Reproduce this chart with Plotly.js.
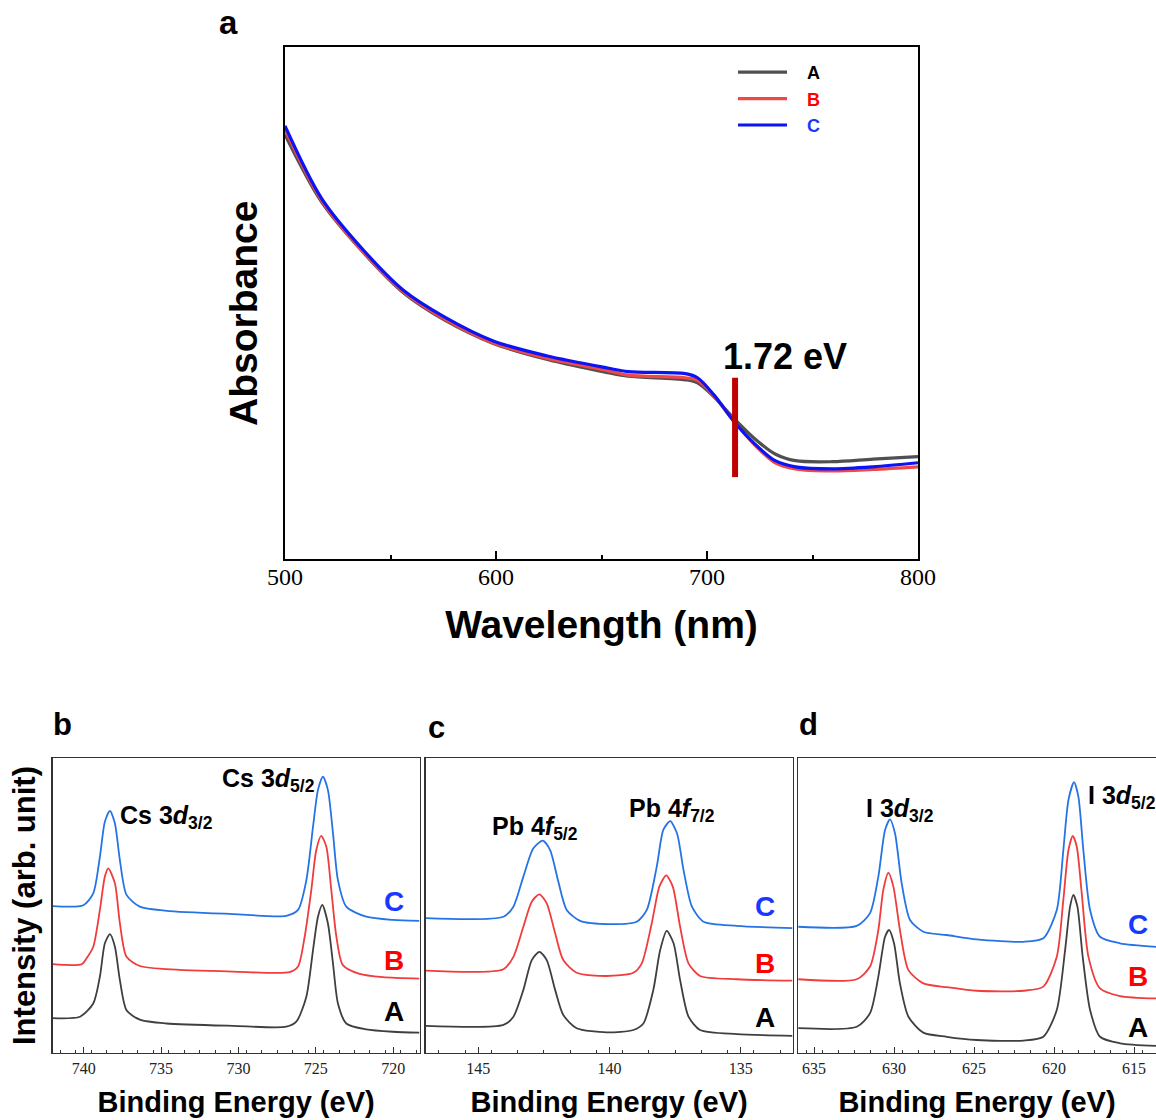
<!DOCTYPE html>
<html>
<head>
<meta charset="utf-8">
<script src="https://cdn.plot.ly/plotly-3.0.1.min.js"></script>
<style>html,body{margin:0;padding:0;background:#fff;}#chart{width:1156px;height:1120px;}</style>
</head>
<body>
<div id="chart"></div>
<script>
// ---------- Panel a: UV-vis absorbance ----------
const wavelength = [500, 517.4, 536.8, 556.1, 575.5, 598.7, 623.9, 652.9, 662.6, 689.7, 695.5, 703.2, 712.9, 722.6, 732.3, 741.9, 759.4, 778.7, 800];
const absA = [0.829, 0.697, 0.600, 0.520, 0.467, 0.421, 0.390, 0.364, 0.357, 0.350, 0.344, 0.317, 0.274, 0.235, 0.205, 0.192, 0.190, 0.195, 0.200];
const absB = [0.839, 0.700, 0.601, 0.522, 0.469, 0.422, 0.392, 0.368, 0.359, 0.354, 0.349, 0.319, 0.268, 0.223, 0.188, 0.176, 0.172, 0.175, 0.180];
const absC = [0.846, 0.704, 0.605, 0.525, 0.473, 0.426, 0.397, 0.373, 0.366, 0.362, 0.354, 0.321, 0.268, 0.225, 0.192, 0.180, 0.176, 0.180, 0.188];
const gapMarkX = [713.3, 713.3];
const gapMarkY = [0.160, 0.354];
const gapLabel = '1.72 eV';
const wlTicks = [500, 600, 700, 800];

// ---------- Panel b: Cs 3d ----------
const csA_x = [742.0, 740.24, 739.38, 738.95, 738.63, 738.30, 737.98, 737.66, 737.23, 736.37, 734.65, 730.35, 726.91, 726.26, 725.61, 725.18, 724.86, 724.58, 724.22, 723.89, 723.57, 723.03, 721.74, 720.02, 718.3];
const csA_y = [0.118, 0.123, 0.168, 0.259, 0.372, 0.403, 0.360, 0.247, 0.145, 0.113, 0.100, 0.092, 0.089, 0.106, 0.191, 0.349, 0.462, 0.502, 0.440, 0.304, 0.168, 0.100, 0.080, 0.072, 0.069];
const csB_x = [742.0, 740.13, 739.81, 739.38, 738.95, 738.63, 738.41, 737.98, 737.66, 737.23, 736.37, 734.65, 730.35, 726.69, 726.15, 725.72, 725.29, 724.97, 724.65, 724.32, 724.0, 723.67, 723.25, 722.17, 720.67, 718.3];
const csB_y = [0.301, 0.301, 0.321, 0.360, 0.485, 0.598, 0.626, 0.575, 0.440, 0.326, 0.295, 0.284, 0.276, 0.274, 0.293, 0.394, 0.553, 0.688, 0.736, 0.699, 0.553, 0.394, 0.298, 0.268, 0.257, 0.252];
const csC_x = [742.0, 740.02, 739.38, 738.95, 738.63, 738.30, 737.98, 737.66, 737.23, 736.37, 734.65, 730.35, 726.91, 726.15, 725.61, 725.18, 724.86, 724.54, 724.22, 723.89, 723.57, 723.03, 721.74, 720.02, 718.3];
const csC_y = [0.498, 0.501, 0.541, 0.665, 0.784, 0.821, 0.778, 0.654, 0.536, 0.496, 0.482, 0.471, 0.465, 0.485, 0.586, 0.767, 0.892, 0.937, 0.892, 0.745, 0.586, 0.496, 0.462, 0.451, 0.448];
const csTicks = [740, 735, 730, 725, 720];

// ---------- Panel c: Pb 4f ----------
const pbA_x = [147.0, 144.04, 143.66, 143.28, 142.96, 142.67, 142.39, 142.07, 141.76, 141.25, 140.10, 139.09, 138.71, 138.33, 138.07, 137.82, 137.56, 137.31, 136.99, 136.55, 135.15, 133.03];
const pbA_y = [0.092, 0.095, 0.123, 0.214, 0.315, 0.343, 0.315, 0.214, 0.129, 0.084, 0.070, 0.078, 0.100, 0.214, 0.349, 0.414, 0.372, 0.247, 0.123, 0.078, 0.064, 0.058];
const pbB_x = [147.0, 144.04, 143.66, 143.28, 142.96, 142.67, 142.39, 142.07, 141.76, 141.25, 140.10, 139.09, 138.77, 138.39, 138.10, 137.84, 137.59, 137.31, 136.99, 136.55, 135.15, 133.03];
const pbB_y = [0.279, 0.284, 0.326, 0.428, 0.513, 0.538, 0.507, 0.406, 0.315, 0.272, 0.261, 0.272, 0.304, 0.440, 0.564, 0.602, 0.564, 0.428, 0.304, 0.261, 0.250, 0.245];
const pbC_x = [147.0, 144.04, 143.66, 143.28, 142.90, 142.54, 142.26, 141.95, 141.63, 141.12, 139.98, 138.96, 138.58, 138.20, 137.95, 137.69, 137.43, 137.18, 136.86, 136.42, 135.15, 133.03];
const pbC_y = [0.457, 0.462, 0.496, 0.598, 0.694, 0.720, 0.688, 0.581, 0.485, 0.448, 0.437, 0.445, 0.485, 0.632, 0.756, 0.786, 0.745, 0.620, 0.496, 0.445, 0.431, 0.423];
const pbTicks = [145, 140, 135];

// ---------- Panel d: I 3d ----------
const iA_x = [635.98, 632.33, 631.5, 630.98, 630.56, 630.31, 630.0, 629.63, 629.1, 628.17, 626.71, 624.83, 621.92, 620.67, 619.83, 619.31, 619.0, 618.79, 618.54, 618.21, 617.75, 617.13, 615.88, 613.63];
const iA_y = [0.084, 0.089, 0.135, 0.259, 0.394, 0.417, 0.372, 0.236, 0.123, 0.069, 0.055, 0.044, 0.042, 0.055, 0.146, 0.349, 0.496, 0.536, 0.496, 0.326, 0.146, 0.055, 0.033, 0.024];
const iB_x = [635.98, 632.33, 631.5, 630.98, 630.67, 630.35, 630.04, 629.63, 629.1, 628.17, 626.71, 624.83, 621.92, 620.67, 619.83, 619.42, 619.1, 618.83, 618.58, 618.27, 617.85, 617.13, 615.88, 613.63];
const iB_y = [0.250, 0.250, 0.293, 0.417, 0.553, 0.611, 0.564, 0.417, 0.281, 0.236, 0.223, 0.211, 0.211, 0.225, 0.326, 0.519, 0.688, 0.736, 0.699, 0.541, 0.326, 0.219, 0.193, 0.185];
const iC_x = [635.98, 632.33, 631.5, 630.98, 630.56, 630.25, 629.94, 629.52, 629.0, 628.17, 626.71, 624.83, 621.92, 620.67, 619.83, 619.42, 619.1, 618.75, 618.48, 618.17, 617.75, 617.13, 615.88, 613.63];
const iC_y = [0.428, 0.431, 0.474, 0.598, 0.756, 0.792, 0.745, 0.575, 0.451, 0.411, 0.400, 0.385, 0.377, 0.389, 0.485, 0.688, 0.858, 0.918, 0.869, 0.688, 0.485, 0.394, 0.372, 0.360];
const iTicks = [635, 630, 625, 620, 615];

const sampleNames = ['A', 'B', 'C'];

// ---------- styling ----------
const SANS = 'Liberation Sans, Arial, sans-serif';
const SERIF = 'Liberation Serif, Times New Roman, serif';
const uvColors = ['#505050', '#f04848', '#0a14f5'];
const xpsColors = ['#3f3f3f', '#f03c3c', '#2574e6'];
const labelColors = ['#000000', '#ff0000', '#1638ff'];

const traces = [];
const uvY = [absA, absB, absC];
for (let i = 0; i < 3; i++) {
  traces.push({
    x: wavelength, y: uvY[i], type: 'scatter', mode: 'lines',
    line: {color: uvColors[i], width: 3.2, shape: 'spline', smoothing: 0.9},
    name: '\u00A0\u00A0\u00A0<b><span style="color:' + labelColors[i] + '">' + sampleNames[i] + '</span></b>',
    legendgroup: 'g' + i,
    xaxis: 'x', yaxis: 'y', hoverinfo: 'skip'
  });
}
traces.push({
  x: gapMarkX, y: gapMarkY, type: 'scatter', mode: 'lines',
  line: {color: '#c00000', width: 6}, showlegend: false, xaxis: 'x', yaxis: 'y', hoverinfo: 'skip'
});

const xpsSets = [
  {ax: '2', xs: [csA_x, csB_x, csC_x], ys: [csA_y, csB_y, csC_y]},
  {ax: '3', xs: [pbA_x, pbB_x, pbC_x], ys: [pbA_y, pbB_y, pbC_y]},
  {ax: '4', xs: [iA_x, iB_x, iC_x], ys: [iA_y, iB_y, iC_y]}
];
xpsSets.forEach(s => {
  for (let i = 0; i < 3; i++) {
    traces.push({
      x: s.xs[i], y: s.ys[i], type: 'scatter', mode: 'lines',
      line: {color: xpsColors[i], width: 1.8, shape: 'spline', smoothing: 0.7},
      showlegend: false, xaxis: 'x' + s.ax, yaxis: 'y' + s.ax, hoverinfo: 'skip'
    });
  }
});

const W = 1156, H = 1120;
const px = v => v / W;
const py = v => 1 - v / H;

function xpsX(domain, range, ticks, minorDtick) {
  return {
    domain: domain, range: range, autorange: false,
    tickmode: 'array', tickvals: ticks, ticktext: ticks.map(String),
    ticks: 'inside', ticklen: 6, tickwidth: 1, tickcolor: '#333',
    minor: {dtick: minorDtick, tick0: ticks[0] + minorDtick, ticks: 'inside', ticklen: 3, tickwidth: 1, tickcolor: '#333'},
    showline: true, linecolor: '#333', linewidth: 1.3, mirror: true,
    showgrid: false, zeroline: false,
    tickfont: {family: SERIF, size: 16, color: '#222'},
    title: {text: '<b>Binding Energy (eV)</b>', font: {family: SANS, size: 29, color: '#000'}, standoff: 16}
  };
}
function xpsY(domain, anchor, showTitle, mirror) {
  const o = {
    domain: domain, range: [0, 1], anchor: anchor,
    showticklabels: false, ticks: '', showgrid: false, zeroline: false,
    showline: true, linecolor: '#333', linewidth: 1.3, mirror: mirror
  };
  if (showTitle) o.title = {text: '<b>Intensity (arb. unit)</b>', font: {family: SANS, size: 31, color: '#000'}, standoff: 6};
  return o;
}

const bottomDom = [py(1053), py(758)];

const layout = {
  width: W, height: H,
  margin: {l: 0, r: 0, t: 0, b: 0},
  paper_bgcolor: '#fff', plot_bgcolor: '#fff',
  showlegend: true,
  legend: {
    x: px(733), y: py(54), xanchor: 'left', yanchor: 'top',
    bgcolor: 'rgba(0,0,0,0)', borderwidth: 0,
    font: {family: SANS, size: 18, color: '#000'},
    traceorder: 'grouped', tracegroupgap: 0, itemwidth: 49
  },
  xaxis: {
    domain: [px(285), px(918)], range: [500, 800], autorange: false, anchor: 'y',
    tickmode: 'array', tickvals: wlTicks, ticktext: wlTicks.map(String),
    ticks: 'inside', ticklen: 8, tickwidth: 2, tickcolor: '#000',
    minor: {dtick: 50, tick0: 550, ticks: 'inside', ticklen: 4, tickwidth: 2, tickcolor: '#000'},
    showline: true, linecolor: '#000', linewidth: 2, mirror: true,
    showgrid: false, zeroline: false,
    ticklabelstandoff: -5,
    tickfont: {family: SERIF, size: 24, color: '#000'},
    title: {text: '<b>Wavelength (nm)</b>', font: {family: SANS, size: 39, color: '#000'}, standoff: 22}
  },
  yaxis: {
    domain: [py(559), py(47)], range: [0, 1], autorange: false, anchor: 'x',
    showticklabels: false, ticks: '', showgrid: false, zeroline: false,
    showline: true, linecolor: '#000', linewidth: 2, mirror: true
  },
  xaxis2: Object.assign(xpsX([px(52.7), px(419.5)], [742, 718.3], csTicks, -2.5), {anchor: 'y2'}),
  yaxis2: xpsY(bottomDom, 'x2', true, true),
  xaxis3: Object.assign(xpsX([px(425.7), px(792.5)], [147, 133.03], pbTicks, -2.5), {anchor: 'y3'}),
  yaxis3: xpsY(bottomDom, 'x3', false, true),
  xaxis4: Object.assign(xpsX([px(798), 1], [636, 613.63], iTicks, -2.5), {anchor: 'y4'}),
  yaxis4: xpsY(bottomDom, 'x4', false, false),
  annotations: []
};

const ann = layout.annotations;
// y-axis title of panel a (offset along the axis as in the original)
ann.push({text: '<b>Absorbance</b>', xref: 'paper', yref: 'paper', x: px(243), y: py(314),
  xanchor: 'center', yanchor: 'middle', textangle: -90, showarrow: false,
  font: {family: SANS, size: 39, color: '#000'}});

function panelLabel(t, x, y, size) {
  ann.push({text: '<b>' + t + '</b>', xref: 'paper', yref: 'paper', x: px(x), y: py(y),
    xanchor: 'center', yanchor: 'middle', showarrow: false, font: {family: SANS, size: size, color: '#000'}});
}
panelLabel('a', 228, 22, 33);
panelLabel('b', 62, 724, 31);
panelLabel('c', 436, 727, 31);
panelLabel('d', 808, 724, 31);

ann.push({text: '<b>' + gapLabel + '</b>', xref: 'x', yref: 'y', x: 737, y: 0.395,
  xanchor: 'center', yanchor: 'middle', showarrow: false, font: {family: SANS, size: 36, color: '#000'}});

function peak(t, ax, x, y) {
  ann.push({text: t, xref: 'x' + ax, yref: 'y' + ax, x: x, y: y, xanchor: 'left', yanchor: 'middle',
    showarrow: false, font: {family: SANS, size: 25, color: '#000'}});
}
peak('<b>Cs 3<i>d</i><sub>3/2</sub></b>', '2', 737.75, 0.80);
peak('<b>Cs 3<i>d</i><sub>5/2</sub></b>', '2', 731.2, 0.925);
peak('<b>Pb 4<i>f</i><sub>5/2</sub></b>', '3', 144.55, 0.762);
peak('<b>Pb 4<i>f</i><sub>7/2</sub></b>', '3', 139.33, 0.824);
peak('<b>I 3<i>d</i><sub>3/2</sub></b>', '4', 631.9, 0.824);
peak('<b>I 3<i>d</i><sub>5/2</sub></b>', '4', 618.0, 0.868);

function sampleTags(ax, x, ys) {
  for (let i = 0; i < 3; i++) {
    ann.push({text: '<b>' + sampleNames[i] + '</b>', xref: 'x' + ax, yref: 'y' + ax, x: x, y: ys[i],
      xanchor: 'center', yanchor: 'middle', showarrow: false, font: {family: SANS, size: 28, color: labelColors[i]}});
  }
}
sampleTags('2', 719.92, [0.139, 0.315, 0.512]);
sampleTags('3', 134.07, [0.119, 0.305, 0.495]);
sampleTags('4', 614.75, [0.085, 0.261, 0.434]);

Plotly.newPlot('chart', traces, layout, {staticPlot: true, displayModeBar: false});
</script>
</body>
</html>
